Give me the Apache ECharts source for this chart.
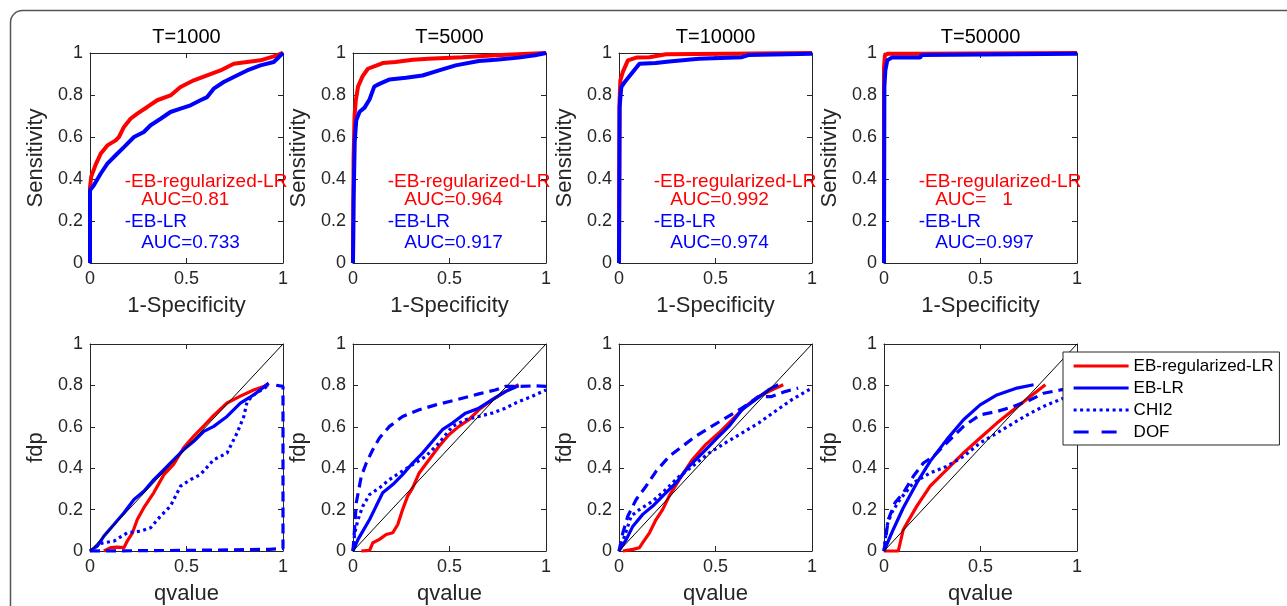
<!DOCTYPE html>
<html>
<head>
<meta charset="utf-8">
<script src="https://cdn.jsdelivr.net/npm/echarts@6/dist/echarts.min.js"></script>
<style>
html,body{margin:0;padding:0;background:#fff;}
#chart{width:1287px;height:606px;}
</style>
</head>
<body>
<div id="chart"></div>
<script>
// ---------- data ----------
const titles = ['T=1000', 'T=5000', 'T=10000', 'T=50000'];
const aucRegLR = ['0.81', '0.964', '0.992', '   1'];
const aucLR = ['0.733', '0.917', '0.974', '0.997'];
const seriesNames = ['EB-regularized-LR', 'EB-LR', 'CHI2', 'DOF'];

// ROC curves: [1-Specificity, Sensitivity]
const rocReg1000 = [[0,0],[0,0.36],[0.006,0.41],[0.03,0.47],[0.055,0.52],[0.09,0.56],[0.133,0.584],[0.15,0.6],[0.176,0.648],[0.21,0.687],[0.245,0.711],[0.297,0.743],[0.348,0.775],[0.417,0.798],[0.469,0.838],[0.538,0.87],[0.607,0.894],[0.676,0.917],[0.745,0.949],[0.814,0.957],[0.883,0.965],[0.952,0.984],[1,1]];
const rocLR1000 = [[0,0],[0,0.346],[0.02,0.37],[0.055,0.425],[0.09,0.473],[0.133,0.513],[0.176,0.552],[0.228,0.6],[0.279,0.624],[0.314,0.656],[0.366,0.687],[0.417,0.719],[0.469,0.735],[0.521,0.751],[0.572,0.775],[0.607,0.79],[0.641,0.83],[0.693,0.862],[0.745,0.886],[0.814,0.917],[0.883,0.941],[0.952,0.957],[0.978,0.98],[1,1]];
const rocReg5000 = [[0,0],[0.003,0.5],[0.008,0.7],[0.014,0.77],[0.026,0.84],[0.05,0.89],[0.077,0.925],[0.12,0.94],[0.154,0.952],[0.22,0.957],[0.31,0.968],[0.39,0.973],[0.566,0.98],[0.74,0.989],[0.91,0.997],[1,1]];
const rocLR5000 = [[0,0],[0.003,0.3],[0.009,0.58],[0.017,0.68],[0.034,0.72],[0.06,0.74],[0.086,0.78],[0.11,0.84],[0.137,0.853],[0.19,0.874],[0.274,0.882],[0.36,0.893],[0.446,0.917],[0.532,0.941],[0.652,0.962],[0.74,0.968],[0.858,0.978],[0.943,0.989],[1,1]];
const rocReg10000 = [[0,0],[0.003,0.775],[0.007,0.87],[0.02,0.91],[0.046,0.965],[0.09,0.978],[0.158,0.98],[0.243,0.994],[0.55,0.997],[1,1]];
const rocLR10000 = [[0,0],[0.003,0.743],[0.012,0.838],[0.03,0.862],[0.063,0.9],[0.106,0.949],[0.19,0.952],[0.26,0.96],[0.414,0.973],[0.637,0.98],[0.67,0.99],[1,0.997]];
const rocReg50000 = [[0,0],[0,0.933],[0.005,0.99],[0.022,0.997],[0.178,0.997],[0.18,1],[1,1]];
const rocLR50000 = [[0,0],[0.002,0.84],[0.007,0.917],[0.017,0.965],[0.04,0.978],[0.187,0.978],[0.195,0.99],[1,0.997]];

// fdp vs qvalue: [qvalue, fdp]
const fdpReg1000 = [[0.072,0],[0.107,0.016],[0.14,0.019],[0.176,0.016],[0.193,0.048],[0.22,0.088],[0.245,0.152],[0.279,0.209],[0.33,0.281],[0.383,0.369],[0.434,0.42],[0.486,0.5],[0.538,0.555],[0.59,0.605],[0.641,0.655],[0.71,0.715],[0.779,0.748],[0.848,0.778],[0.926,0.803]];
const fdpLR1000 = [[0,0],[0.038,0.024],[0.072,0.072],[0.124,0.128],[0.176,0.185],[0.228,0.249],[0.279,0.289],[0.331,0.345],[0.383,0.393],[0.434,0.441],[0.486,0.49],[0.538,0.53],[0.59,0.578],[0.641,0.602],[0.71,0.65],[0.779,0.714],[0.848,0.754],[0.926,0.811]];
const fdpChi1000 = [[0,0],[0.055,0.037],[0.124,0.048],[0.193,0.088],[0.262,0.096],[0.314,0.112],[0.366,0.169],[0.417,0.217],[0.469,0.313],[0.521,0.345],[0.572,0.369],[0.641,0.441],[0.71,0.473],[0.762,0.57],[0.797,0.65],[0.814,0.722],[0.848,0.754],[0.917,0.795]];
const fdpDof1000 = [[0,0],[0.5,0.003],[0.93,0.008],[1,0.012],[1,0.795],[0.95,0.803]];

const fdpReg5000 = [[0.043,0],[0.086,0.003],[0.103,0.04],[0.137,0.056],[0.172,0.08],[0.206,0.088],[0.232,0.128],[0.257,0.2],[0.283,0.265],[0.309,0.305],[0.343,0.377],[0.394,0.441],[0.446,0.506],[0.497,0.562],[0.549,0.602],[0.6,0.634],[0.652,0.682],[0.72,0.73],[0.789,0.77],[0.858,0.803]];
const fdpLR5000 = [[0,0],[0.026,0.056],[0.051,0.096],[0.086,0.152],[0.12,0.217],[0.154,0.281],[0.206,0.321],[0.257,0.369],[0.309,0.425],[0.36,0.473],[0.412,0.53],[0.463,0.586],[0.515,0.618],[0.583,0.666],[0.652,0.69],[0.72,0.73],[0.789,0.77],[0.858,0.798]];
const fdpChi5000 = [[0,0],[0.009,0.088],[0.026,0.152],[0.051,0.217],[0.086,0.273],[0.137,0.305],[0.189,0.345],[0.24,0.377],[0.309,0.417],[0.377,0.457],[0.446,0.522],[0.515,0.602],[0.583,0.634],[0.652,0.65],[0.72,0.666],[0.789,0.69],[0.858,0.722],[0.926,0.746],[1,0.778]];
const fdpDof5000 = [[0,0],[0.009,0.12],[0.017,0.233],[0.043,0.361],[0.069,0.425],[0.103,0.49],[0.137,0.546],[0.189,0.602],[0.257,0.65],[0.343,0.682],[0.429,0.706],[0.532,0.73],[0.652,0.759],[0.737,0.778],[0.789,0.795],[0.858,0.795],[0.943,0.798],[1,0.795]];

const fdpReg10000 = [[0.02,0],[0.072,0.008],[0.106,0.016],[0.123,0.04],[0.158,0.088],[0.192,0.152],[0.226,0.2],[0.26,0.265],[0.312,0.345],[0.38,0.441],[0.449,0.514],[0.517,0.57],[0.586,0.634],[0.654,0.698],[0.723,0.746],[0.791,0.778],[0.851,0.803]];
const fdpLR10000 = [[0,0],[0.038,0.056],[0.072,0.12],[0.123,0.177],[0.175,0.217],[0.226,0.265],[0.295,0.329],[0.363,0.409],[0.432,0.473],[0.5,0.538],[0.569,0.602],[0.637,0.682],[0.705,0.73],[0.774,0.778],[0.825,0.803]];
const fdpChi10000 = [[0,0],[0.029,0.072],[0.063,0.169],[0.106,0.2],[0.175,0.241],[0.243,0.297],[0.312,0.361],[0.38,0.409],[0.466,0.473],[0.551,0.522],[0.637,0.57],[0.723,0.618],[0.808,0.674],[0.894,0.73],[1,0.787]];
const fdpDof10000 = [[0,0],[0.02,0.088],[0.046,0.169],[0.089,0.249],[0.14,0.313],[0.192,0.385],[0.26,0.457],[0.329,0.506],[0.397,0.554],[0.466,0.594],[0.551,0.642],[0.637,0.69],[0.723,0.746],[0.791,0.746],[0.86,0.77],[0.928,0.787]];

const fdpReg50000 = [[0,0],[0.074,0],[0.1,0.104],[0.17,0.217],[0.239,0.313],[0.325,0.393],[0.412,0.474],[0.498,0.546],[0.585,0.618],[0.671,0.682],[0.758,0.746],[0.836,0.803]];
const fdpLR50000 = [[0,0],[0.048,0.104],[0.1,0.209],[0.17,0.329],[0.239,0.433],[0.325,0.538],[0.412,0.634],[0.498,0.706],[0.585,0.754],[0.689,0.787],[0.775,0.803]];
const fdpChi50000 = [[0,0],[0.014,0.12],[0.04,0.185],[0.083,0.249],[0.152,0.329],[0.239,0.377],[0.325,0.409],[0.412,0.457],[0.498,0.522],[0.585,0.57],[0.671,0.618],[0.758,0.666],[0.844,0.706],[0.93,0.738],[1,0.77]];
const fdpDof50000 = [[0,0],[0.022,0.152],[0.057,0.233],[0.1,0.281],[0.152,0.361],[0.204,0.425],[0.256,0.457],[0.325,0.522],[0.412,0.602],[0.498,0.658],[0.585,0.674],[0.671,0.698],[0.758,0.73],[0.827,0.762],[0.913,0.778],[1,0.787]];

const diagonal = [[0,0],[1,1]];

const rocRegAll = [rocReg1000, rocReg5000, rocReg10000, rocReg50000];
const rocLRAll = [rocLR1000, rocLR5000, rocLR10000, rocLR50000];
const fdpRegAll = [fdpReg1000, fdpReg5000, fdpReg10000, fdpReg50000];
const fdpLRAll = [fdpLR1000, fdpLR5000, fdpLR10000, fdpLR50000];
const fdpChiAll = [fdpChi1000, fdpChi5000, fdpChi10000, fdpChi50000];
const fdpDofAll = [fdpDof1000, fdpDof5000, fdpDof10000, fdpDof50000];

// ---------- layout / styles ----------
const FONT = '"Liberation Sans", Arial, Helvetica, sans-serif';
const AX = '#262626';
const RED = '#ff0000', BLUE = '#0000ff';
const gridLefts = [90, 353, 619, 884];
const gridW = 193;
const rowTop = [53, 344], rowH = [210, 208];

const grids = [], xAxes = [], yAxes = [], series = [], titleComps = [];

function axisBase(gi, pos, showLabel, isX, name) {
  return {
    type: 'value', gridIndex: gi, position: pos, min: 0, max: 1,
    interval: isX ? 0.5 : 0.2,
    axisLine: {show: true, onZero: false, lineStyle: {color: AX, width: 1}},
    axisTick: {show: true, inside: true, length: 5, lineStyle: {color: AX, width: 1}},
    axisLabel: {show: showLabel, color: AX, fontSize: 18, fontFamily: FONT, margin: 7},
    splitLine: {show: false},
    name: name || '', nameLocation: 'middle', nameGap: isX ? 32 : 43,
    nameTextStyle: {color: AX, fontSize: 22, fontFamily: FONT}
  };
}

for (let r = 0; r < 2; r++) {
  for (let c = 0; c < 4; c++) {
    const gi = r * 4 + c;
    grids.push({left: gridLefts[c], top: rowTop[r], width: gridW, height: rowH[r], containLabel: false});
    xAxes.push(axisBase(gi, 'bottom', true, true, r === 0 ? '1-Specificity' : 'qvalue'));
    xAxes.push(axisBase(gi, 'top', false, true));
    yAxes.push(axisBase(gi, 'left', true, false, r === 0 ? 'Sensitivity' : 'fdp'));
    yAxes.push(axisBase(gi, 'right', false, false));
    const xi = gi * 2, yi = gi * 2;
    const line = (name, data, color, width, type, z) => ({
      type: 'line', name: name, data: data, xAxisIndex: xi, yAxisIndex: yi,
      symbol: 'none', clip: false, animation: false, z: z,
      lineStyle: {color: color, width: width, type: type || 'solid'},
      itemStyle: {color: color}
    });
    if (r === 0) {
      series.push(line(seriesNames[0], rocRegAll[c], RED, 4, 'solid', 2));
      series.push(line(seriesNames[1], rocLRAll[c], BLUE, 4, 'solid', 3));
      const texts = [
        ['-EB-regularized-LR', 0.18, 0.389, RED],
        ['AUC=' + aucRegLR[c], 0.265, 0.299, RED],
        ['-EB-LR', 0.18, 0.194, BLUE],
        ['AUC=' + aucLR[c], 0.265, 0.094, BLUE]
      ];
      texts.forEach(t => series.push({
        type: 'scatter', xAxisIndex: xi, yAxisIndex: yi, symbolSize: 0, silent: true,
        animation: false, z: 5,
        itemStyle: {opacity: 1},
        data: [[t[1], t[2]]],
        label: {show: true, position: 'right', distance: 0, formatter: t[0], opacity: 1,
                color: t[3], fontSize: 19, fontFamily: FONT}
      }));
      titleComps.push({
        text: titles[c], left: gridLefts[c] + gridW / 2, top: 27, textAlign: 'center', padding: 0,
        textStyle: {fontSize: 20, fontWeight: 'normal', color: '#000', fontFamily: FONT}
      });
    } else {
      series.push(line(seriesNames[0], fdpRegAll[c], RED, 3.2, 'solid', 2));
      series.push(line(seriesNames[1], fdpLRAll[c], BLUE, 3.2, 'solid', 3));
      series.push(line(seriesNames[2], fdpChiAll[c], BLUE, 3.2, [3, 3.5], 3));
      series.push(line(seriesNames[3], fdpDofAll[c], BLUE, 3.2, [10, 6], 3));
      series.push(line('diag', diagonal, '#000', 1, 'solid', 4));
    }
  }
}

const option = {
  backgroundColor: '#fff',
  animation: false,
  title: titleComps,
  grid: grids,
  xAxis: xAxes,
  yAxis: yAxes,
  legend: {
    orient: 'vertical', left: 1063, top: 352,
    padding: [4, 6, 3, 9], itemWidth: 55, itemHeight: 14, itemGap: 2,
    backgroundColor: '#fff', borderColor: AX, borderWidth: 1, borderRadius: 0,
    selectedMode: false, z: 20,
    itemStyle: {opacity: 0},
    lineStyle: {width: 3.2},
    textStyle: {fontSize: 17, color: '#000', fontFamily: FONT, lineHeight: 20},
    data: [
      {name: seriesNames[0], lineStyle: {width: 3.2, type: 'solid'}},
      {name: seriesNames[1], lineStyle: {width: 3.2, type: 'solid'}},
      {name: seriesNames[2], lineStyle: {width: 3.2, type: [3, 3.5]}},
      {name: seriesNames[3], lineStyle: {width: 3.2, type: [15, 13]}}
    ]
  },
  graphic: [{
    type: 'rect', silent: true, z: -10,
    shape: {x: 10.5, y: 10.5, width: 1400, height: 800, r: 12},
    style: {fill: 'none', stroke: '#555', lineWidth: 1.5}
  }],
  series: series
};

const chart = echarts.init(document.getElementById('chart'), null, {renderer: 'canvas'});
chart.setOption(option);
</script>
</body>
</html>
